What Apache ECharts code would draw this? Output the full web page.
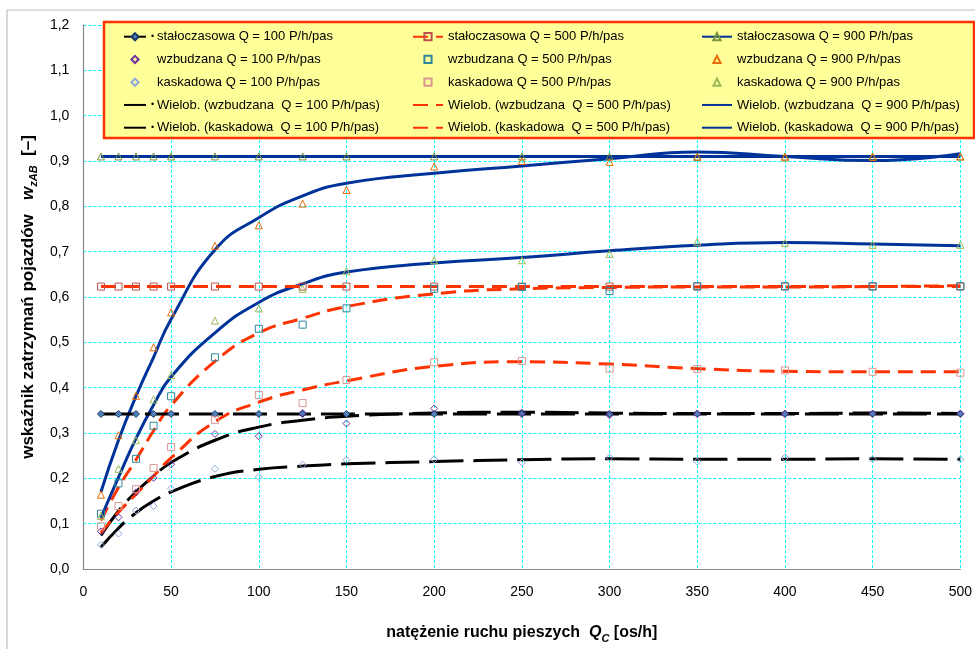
<!DOCTYPE html>
<html><head><meta charset="utf-8">
<script src="https://cdn.jsdelivr.net/npm/echarts@6/dist/echarts.min.js"></script>
<style>html,body{margin:0;padding:0;background:#fff}#c{width:975px;height:649px}</style>
</head><body><div id="c"></div>
<script>
const xVals = [10,20,30,40,50,75,100,125,150,200,250,300,350,400,450,500];
const yTickLabels = ['0,0','0,1','0,2','0,3','0,4','0,5','0,6','0,7','0,8','0,9','1,0','1,1','1,2'];
const xTickLabels = ['0','50','100','150','200','250','300','350','400','450','500'];

const stal100 = [0.342,0.342,0.342,0.342,0.342,0.342,0.342,0.342,0.342,0.342,0.342,0.342,0.342,0.342,0.342,0.342];
const stal500 = [0.623,0.623,0.623,0.623,0.623,0.623,0.623,0.623,0.623,0.623,0.623,0.623,0.623,0.623,0.623,0.623];
const stal900 = [0.910,0.910,0.910,0.910,0.910,0.910,0.910,0.910,0.910,0.910,0.910,0.910,0.910,0.910,0.910,0.910];
const wzb100 = [0.083,0.114,0.169,0.201,0.231,0.298,0.293,0.344,0.321,0.354,0.345,0.339,0.343,0.343,0.343,0.343];
const kas100 = [0.053,0.078,0.129,0.139,0.178,0.221,0.203,0.230,0.241,0.242,0.235,0.246,0.237,0.246,0.242,0.242];
const wzb500 = [0.122,0.189,0.243,0.316,0.381,0.467,0.530,0.539,0.575,0.618,0.622,0.613,0.624,0.624,0.624,0.624];
const kas500 = [0.094,0.139,0.176,0.223,0.269,0.329,0.384,0.366,0.417,0.456,0.459,0.442,0.441,0.438,0.435,0.433];
const wzb900 = [0.164,0.295,0.382,0.489,0.566,0.713,0.758,0.806,0.836,0.888,0.900,0.898,0.909,0.908,0.909,0.910];
const kas900 = [0.117,0.221,0.284,0.374,0.428,0.548,0.575,0.618,0.657,0.681,0.681,0.695,0.722,0.719,0.715,0.715];

const trWzb100 = [0.074,0.128,0.170,0.205,0.235,0.284,0.313,0.328,0.337,0.344,0.346,0.344,0.343,0.343,0.344,0.343];
const trKas100 = [0.048,0.090,0.124,0.150,0.170,0.204,0.220,0.227,0.232,0.237,0.241,0.243,0.242,0.242,0.243,0.242];
const trWzb500 = [0.107,0.180,0.241,0.305,0.361,0.458,0.521,0.553,0.579,0.607,0.618,0.621,0.622,0.622,0.623,0.625];
const trKas500 = [0.080,0.125,0.165,0.205,0.245,0.325,0.368,0.395,0.415,0.447,0.457,0.452,0.442,0.436,0.435,0.435];
const trWzb900 = [0.170,0.284,0.381,0.467,0.551,0.704,0.775,0.823,0.851,0.873,0.889,0.905,0.920,0.910,0.901,0.916];
const trKas900 = [0.113,0.202,0.288,0.362,0.424,0.521,0.588,0.629,0.655,0.675,0.687,0.702,0.714,0.720,0.717,0.713];

const names = {
  s100:'stałoczasowa Q = 100 P/h/pas', w100:'wzbudzana Q = 100 P/h/pas', k100:'kaskadowa Q = 100 P/h/pas',
  tw100:'Wielob. (wzbudzana  Q = 100 P/h/pas)', tk100:'Wielob. (kaskadowa  Q = 100 P/h/pas)',
  s500:'stałoczasowa Q = 500 P/h/pas', w500:'wzbudzana Q = 500 P/h/pas', k500:'kaskadowa Q = 500 P/h/pas',
  tw500:'Wielob. (wzbudzana  Q = 500 P/h/pas)', tk500:'Wielob. (kaskadowa  Q = 500 P/h/pas)',
  s900:'stałoczasowa Q = 900 P/h/pas', w900:'wzbudzana Q = 900 P/h/pas', k900:'kaskadowa Q = 900 P/h/pas',
  tw900:'Wielob. (wzbudzana  Q = 900 P/h/pas)', tk900:'Wielob. (kaskadowa  Q = 900 P/h/pas)'
};

const BLACK='#000000', RED='#FF3300', BLUE='#003399';
const FONT = '"Liberation Sans", Arial, sans-serif';
const pairs = arr => xVals.map((x,i)=>[x,arr[i]]);

function constLine(name, arr, color, dash, sym, symFill, symBorder, size){
  return {name, type:'line', data:pairs(arr), z:3, symbol:sym, symbolSize:size, showSymbol:true,
    lineStyle:{color, width:3, type:dash}, itemStyle:{color:symFill, borderColor:symBorder, borderWidth:1}};
}
function markers(name, arr, sym, border, size){
  return {name, type:'line', data:pairs(arr), z:4, symbol:sym, symbolSize:size, showSymbol:true,
    lineStyle:{width:0, opacity:0}, itemStyle:{color:'rgba(255,255,255,0)', borderColor:border, borderWidth:1}};
}
function trend(name, arr, color, dash){
  return {name, type:'line', data:pairs(arr), z:2, smooth:0.5, symbol:'none', showSymbol:false,
    lineStyle:{color, width:3, type:dash}, itemStyle:{color}};
}
const dashK=[34,10], dashR=[15,8];

const series = [
  constLine(names.s100, stal100, BLACK, dashK, 'diamond', '#4F81BD', '#1F3864', 7),
  markers(names.w100, wzb100, 'diamond', '#7030A0', 7),
  markers(names.k100, kas100, 'diamond', '#8EA9DB', 7),
  trend(names.tw100, trWzb100, BLACK, dashK),
  trend(names.tk100, trKas100, BLACK, dashK),
  constLine(names.s500, stal500, RED, dashR, 'rect', 'rgba(255,255,255,0)', '#C0504D', 7),
  markers(names.w500, wzb500, 'rect', '#31859C', 7),
  markers(names.k500, kas500, 'rect', '#D99694', 7),
  trend(names.tw500, trWzb500, RED, dashR),
  trend(names.tk500, trKas500, RED, dashR),
  constLine(names.s900, stal900, BLUE, 'solid', 'triangle', 'rgba(255,255,255,0)', '#77933C', 7),
  markers(names.w900, wzb900, 'triangle', '#E46C0A', 7),
  markers(names.k900, kas900, 'triangle', '#9BBB59', 7),
  trend(names.tw900, trWzb900, BLUE, 'solid'),
  trend(names.tk900, trKas900, BLUE, 'solid')
];

const dotted = [names.s100, names.tw100, names.tk100];
const trendNames = [names.tw100, names.tk100, names.tw500, names.tk500, names.tw900, names.tk900];
function legendCol(keys, left, itemWidth, col1){
  return {
    orient:'vertical', left, top:25.2, itemWidth, itemHeight:9, itemGap:9.75, z:10, selectedMode:false,
    data: keys.map(k => trendNames.includes(names[k]) ? {name:names[k], itemStyle:{opacity:0}} : {name:names[k]}),
    textStyle:{fontFamily:FONT, fontSize:13, color:'#000', rich:{
      d:{fontSize:9, width:6, fontFamily:FONT, color:'#000'},
      s:{width:6},
      t:{fontSize:13, fontFamily:FONT, color:'#000'}
    }},
    formatter: n => col1 ? ((dotted.includes(n) ? '{d|•}' : '{s|}') + '{t|' + n + '}') : ('{t|' + n + '}')
  };
}

const titleRich = {
  b:{fontFamily:FONT, fontWeight:'bold', fontSize:17, color:'#000', lineHeight:22},
  i:{fontFamily:FONT, fontWeight:'bold', fontStyle:'italic', fontSize:17, color:'#000', lineHeight:22},
  sub:{fontFamily:FONT, fontWeight:'bold', fontStyle:'italic', fontSize:11, color:'#000', lineHeight:13, verticalAlign:'bottom'}
};
const xTitleRich = {
  b:{fontFamily:FONT, fontWeight:'bold', fontSize:16, color:'#000', lineHeight:22},
  i:{fontFamily:FONT, fontWeight:'bold', fontStyle:'italic', fontSize:16, color:'#000', lineHeight:22},
  sub:{fontFamily:FONT, fontWeight:'bold', fontStyle:'italic', fontSize:11, color:'#000', lineHeight:13, verticalAlign:'bottom'}
};

const chart = echarts.init(document.getElementById('c'), null, {renderer:'canvas'});
chart.setOption({
  animation:false,
  backgroundColor:'#fff',
  grid:{left:83.4, right:9.5, top:25, bottom:67.3, containLabel:false},
  graphic:[
    {type:'rect', z:-10, shape:{x:7, y:10, width:1100, height:1000}, style:{fill:'none', stroke:'#BFBFBF', lineWidth:1.2}},
    {type:'rect', z:5, shape:{x:104, y:22, width:870, height:116}, style:{fill:'#FFFF99', stroke:RED, lineWidth:2.5}}
  ],
  legend:[
    legendCol(['s100','w100','k100','tw100','tk100'], 118, 22, true),
    legendCol(['s500','w500','k500','tw500','tk500'], 407, 30, false),
    legendCol(['s900','w900','k900','tw900','tk900'], 696, 30, false)
  ],
  xAxis:{type:'value', min:0, max:500, interval:50,
    axisLine:{show:true, lineStyle:{color:'#868686', width:1.2}}, axisTick:{show:false},
    axisLabel:{fontFamily:FONT, fontSize:14, color:'#000', margin:16,
      formatter:v => xTickLabels[Math.round(v/50)]},
    splitLine:{show:true, lineStyle:{color:'#00FFFF', type:[3,2], width:1}},
    name:'{b|natężenie ruchu pieszych  }{i|Q}{sub|C}{b| [os/h]}', nameLocation:'middle', nameGap:53,
    nameTextStyle:{rich:xTitleRich}
  },
  yAxis:{type:'value', min:0, max:1.2, interval:0.1,
    axisLine:{show:true, lineStyle:{color:'#868686', width:1.2}}, axisTick:{show:false},
    axisLabel:{fontFamily:FONT, fontSize:14, color:'#000', margin:14,
      formatter:v => yTickLabels[Math.round(v*10)]},
    splitLine:{show:true, lineStyle:{color:'#00FFFF', type:[3,2], width:1}},
    name:'{b|wskaźnik zatrzymań pojazdów   }{i|w}{sub|zAB}{b|  [–]}', nameLocation:'middle', nameGap:42, nameRotate:90,
    nameTextStyle:{rich:titleRich}
  },
  series
});
</script></body></html>
